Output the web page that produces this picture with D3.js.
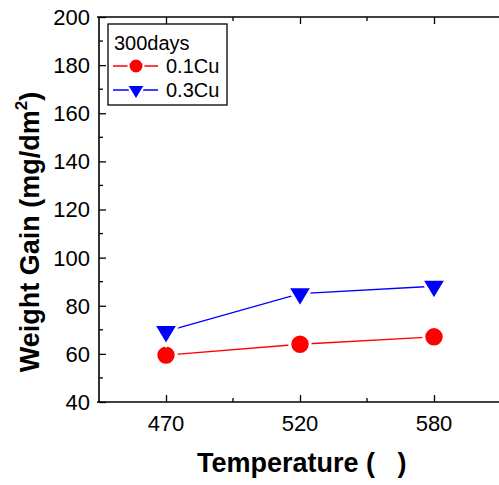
<!DOCTYPE html>
<html>
<head>
<meta charset="utf-8">
<script src="https://cdn.jsdelivr.net/npm/d3@7"></script>
<style>
  body { margin: 0; background: #fff; }
  svg { display: block; font-family: Arial, "Liberation Sans", sans-serif; }
</style>
</head>
<body>
<svg id="chart" width="499" height="485"></svg>
<script>
// Data
var temps = ["470", "520", "580"];
var cu01 = [59.5, 64.0, 67.1];
var cu03 = [69.3, 85.0, 88.1];
var yTicks = [40, 60, 80, 100, 120, 140, 160, 180, 200];
var seriesNames = ["0.1Cu", "0.3Cu"];
var legendTitle = "300days";

var svg = d3.select("#chart");

// Plot frame
var plotLeft = 99, plotRight = 501, plotTop = 17, plotBottom = 402;

var x = d3.scalePoint()
    .domain(temps)
    .range([plotLeft, plotRight])
    .padding(0.5);

var y = d3.scaleLinear()
    .domain([40, 200])
    .range([plotBottom, plotTop]);

var step = x.step();
var minorX = temps.slice(0, -1).map(function(t) { return x(t) + step / 2; });
var minorY = d3.range(50, 200, 20);

// Left axis, ticks inward
var yAxis = d3.axisRight(y)
    .tickValues(yTicks)
    .tickSize(7)
    .tickFormat("");
var gy = svg.append("g")
    .attr("transform", "translate(" + plotLeft + ",0)")
    .call(yAxis);
gy.select(".domain").remove();
gy.selectAll(".tick line").attr("stroke", "#000").attr("stroke-width", 1.3);

svg.append("g").selectAll("line")
    .data(minorY)
    .enter().append("line")
    .attr("x1", plotLeft).attr("x2", plotLeft + 4)
    .attr("y1", function(d) { return y(d); })
    .attr("y2", function(d) { return y(d); })
    .attr("stroke", "#000").attr("stroke-width", 1.3);

svg.append("g").selectAll("text")
    .data(yTicks)
    .enter().append("text")
    .attr("x", 90)
    .attr("y", function(d) { return y(d); })
    .attr("dy", "0.36em")
    .attr("text-anchor", "end")
    .attr("font-size", 22)
    .text(function(d) { return d; });

// Bottom and top axes, ticks inward
[plotBottom, plotTop].forEach(function(yy) {
    var dir = yy === plotBottom ? -1 : 1;
    var ax = dir < 0 ? d3.axisTop(x) : d3.axisBottom(x);
    ax.tickSize(7).tickFormat("");
    var g = svg.append("g")
        .attr("transform", "translate(0," + yy + ")")
        .call(ax);
    g.select(".domain").remove();
    g.selectAll(".tick line").attr("stroke", "#000").attr("stroke-width", 1.3);

    svg.append("g").selectAll("line")
        .data(minorX)
        .enter().append("line")
        .attr("x1", function(d) { return d; })
        .attr("x2", function(d) { return d; })
        .attr("y1", yy).attr("y2", yy + dir * 4)
        .attr("stroke", "#000").attr("stroke-width", 1.3);

    svg.append("line")
        .attr("x1", plotLeft - 2).attr("x2", plotRight)
        .attr("y1", yy).attr("y2", yy)
        .attr("stroke", "#000").attr("stroke-width", 1.6);
});

svg.append("line")
    .attr("x1", plotLeft).attr("x2", plotLeft)
    .attr("y1", plotTop).attr("y2", plotBottom)
    .attr("stroke", "#000").attr("stroke-width", 1.6);

svg.append("g").selectAll("text")
    .data(temps)
    .enter().append("text")
    .attr("x", function(d) { return x(d); })
    .attr("y", 431)
    .attr("text-anchor", "middle")
    .attr("font-size", 22)
    .text(function(d) { return d; });

// Axis titles
svg.append("text")
    .attr("x", 197)
    .attr("y", 472)
    .attr("font-size", 27)
    .attr("font-weight", "bold")
    .text("Temperature (\u00a0\u00a0\u00a0)");

var yl = svg.append("text")
    .attr("transform", "translate(39,232) rotate(-90)")
    .attr("text-anchor", "middle")
    .attr("font-size", 27)
    .attr("font-weight", "bold");
yl.append("tspan").text("Weight Gain (mg/dm");
yl.append("tspan").attr("font-size", 17).attr("dy", -12).text("2");
yl.append("tspan").attr("dy", 12).text(")");

// Markers
function triPath(s) {
    // down-pointing triangle, point at centroid
    var h = s * 0.83;
    return "M" + (-s / 2) + "," + (-h / 3) + "L" + (s / 2) + "," + (-h / 3) + "L0," + (2 * h / 3) + "Z";
}

var line = d3.line()
    .x(function(d, i) { return x(temps[i]); })
    .y(function(d) { return y(d); });

svg.append("path").datum(cu01)
    .attr("d", line).attr("fill", "none")
    .attr("stroke", "#ff0000").attr("stroke-width", 1.3);
svg.append("path").datum(cu03)
    .attr("d", line).attr("fill", "none")
    .attr("stroke", "#0000ff").attr("stroke-width", 1.3);

svg.append("g").selectAll("circle")
    .data(cu01)
    .enter().append("circle")
    .attr("cx", function(d, i) { return x(temps[i]); })
    .attr("cy", function(d) { return y(d); })
    .attr("r", 10.2)
    .attr("fill", "#ff0000")
    .attr("stroke", "#fff").attr("stroke-width", 3);

svg.append("g").selectAll("path")
    .data(cu03)
    .enter().append("path")
    .attr("transform", function(d, i) { return "translate(" + x(temps[i]) + "," + y(d) + ")"; })
    .attr("d", triPath(25))
    .attr("fill", "#0000ff")
    .attr("stroke", "#fff").attr("stroke-width", 3)
    .attr("stroke-linejoin", "miter");

// Legend
var lg = svg.append("g");
lg.append("rect")
    .attr("x", 108).attr("y", 24)
    .attr("width", 119).attr("height", 81)
    .attr("fill", "#fff").attr("stroke", "#000").attr("stroke-width", 1.3);
lg.append("text")
    .attr("x", 114).attr("y", 50)
    .attr("font-size", 20)
    .text(legendTitle);

var colors = ["#ff0000", "#0000ff"];
seriesNames.forEach(function(name, i) {
    var ly = 66 + i * 24;
    lg.append("line")
        .attr("x1", 113).attr("x2", 158)
        .attr("y1", ly).attr("y2", ly)
        .attr("stroke", colors[i]).attr("stroke-width", 1.3);
    if (i === 0) {
        lg.append("circle")
            .attr("cx", 136).attr("cy", ly).attr("r", 7.5)
            .attr("fill", colors[i]).attr("stroke", "#fff").attr("stroke-width", 2);
    } else {
        lg.append("path")
            .attr("transform", "translate(136," + ly + ")")
            .attr("d", triPath(18))
            .attr("fill", colors[i]).attr("stroke", "#fff").attr("stroke-width", 2);
    }
    lg.append("text")
        .attr("x", 166).attr("y", ly + 7)
        .attr("font-size", 20)
        .text(name);
});
</script>
</body>
</html>
